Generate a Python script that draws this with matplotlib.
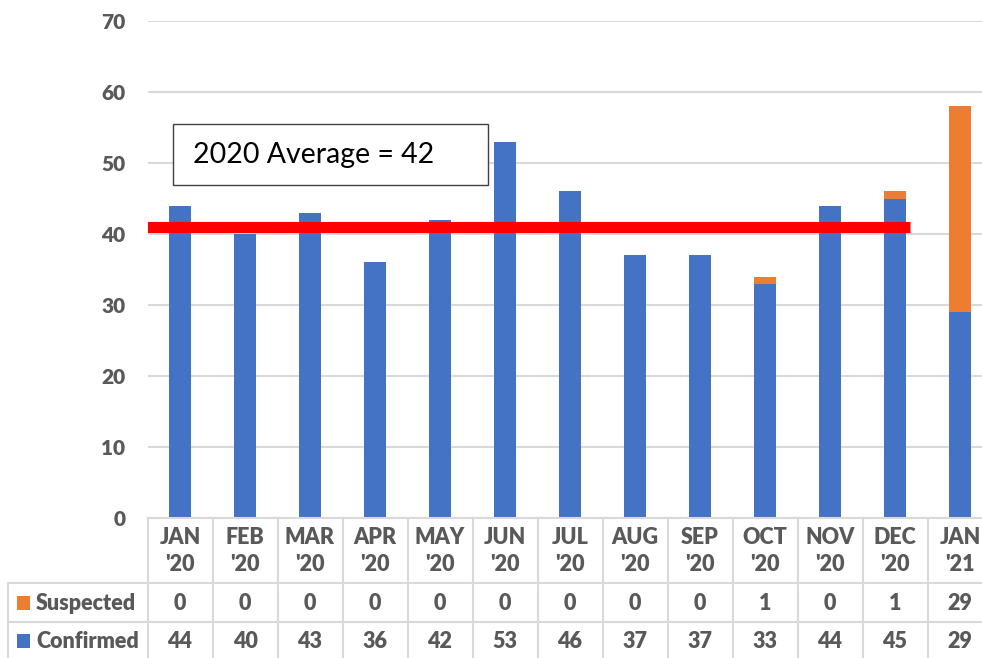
import numpy as np
import matplotlib.pyplot as plt
from matplotlib.patches import Rectangle

# Veriler
months = ["JAN\n'20", "FEB\n'20", "MAR\n'20", "APR\n'20", "MAY\n'20", "JUN\n'20", "JUL\n'20",
          "AUG\n'20", "SEP\n'20", "OCT\n'20", "NOV\n'20", "DEC\n'20", "JAN\n'21"]
confirmed = [44, 40, 43, 36, 42, 53, 46, 37, 37, 33, 44, 45, 29]
suspected = [0, 0, 0, 0, 0, 0, 0, 0, 0, 1, 0, 1, 29]
avg_line = 41
avg_label = "2020 Average = 42"

blue = "#4472C4"
orange = "#ED7D31"
gray_txt = "#595959"
grid_c = "#D9D9D9"
plt.rcParams['font.family'] = ['Lato', 'DejaVu Sans']

W, H = 982, 658
fig = plt.figure(figsize=(W / 100, H / 100), dpi=100)

# piksel -> figür koordinatı
x0_px, x1_px = 147.5, 992.5
ax = fig.add_axes([x0_px / W, 1 - 518 / H, (x1_px - x0_px) / W, (518 - 21) / H])
x = np.arange(len(months))
ax.bar(x, confirmed, width=0.34, color=blue, zorder=2)
ax.bar(x, suspected, width=0.34, bottom=confirmed, color=orange, zorder=2)
ax.set_xlim(-0.5, len(months) - 0.5)
ax.set_ylim(0, 70)
ax.set_yticks(range(0, 71, 10))
ax.yaxis.grid(True, color=grid_c, lw=1.5, zorder=0)
ax.set_xticks([])
for s in ax.spines.values():
    s.set_visible(False)
ax.tick_params(axis='y', length=0, pad=16, labelsize=15, labelcolor=gray_txt)
for lab in ax.get_yticklabels():
    lab.set_fontweight('heavy')

# ortalama çizgisi ve kutu
ax.plot([-0.51, 11.23], [avg_line, avg_line], color="#FF0000", lw=8, solid_capstyle='butt', zorder=3)
ax.add_patch(Rectangle((-0.11, 46.9), 4.85, 8.6, facecolor='white', edgecolor='#404040', lw=1, zorder=4))
ax.text(0.2, 51.1, avg_label, fontsize=20.5, va='center', ha='left', color='black', zorder=5)

# veri tablosu
tax = fig.add_axes([x0_px / W, 0, (x1_px - x0_px) / W, 140 / H])
tax.set_xlim(-0.5, len(months) - 0.5)
tax.set_ylim(0, 140)
tax.axis('off')
u = 1 / 65  # piksel başına veri birimi
xl = -0.5 - (147.5 - 8) * u
kw = dict(color=grid_c, lw=1.5, clip_on=False)
tax.plot([-0.5, 12.5], [140, 140], **kw)
tax.plot([xl, 12.5], [75, 75], **kw)
tax.plot([xl, 12.5], [36, 36], **kw)
tax.plot([xl, xl], [0, 75], **kw)
for k in range(len(months) + 1):
    tax.plot([k - 0.5, k - 0.5], [0, 140], **kw)

tkw = dict(ha='center', va='center', fontsize=15.5, fontweight='heavy', color=gray_txt,
           clip_on=False)
for i, m in enumerate(months):
    tax.text(i, 107, m, linespacing=1.35, **tkw)
    tax.text(i, 55, str(suspected[i]), **tkw)
    tax.text(i, 17, str(confirmed[i]), **tkw)

for yc, name, col in [(55, "Suspected", orange), (17, "Confirmed", blue)]:
    tax.add_patch(Rectangle((-0.5 - (147.5 - 17) * u, yc - 7), 13 * u, 14,
                            facecolor=col, edgecolor='none', clip_on=False))
    tax.text(-0.5 - (147.5 - 36) * u, yc, name, ha='left', va='center', fontsize=15.5,
             fontweight='heavy', color=gray_txt, clip_on=False)

fig.savefig("out.png", dpi=100)
